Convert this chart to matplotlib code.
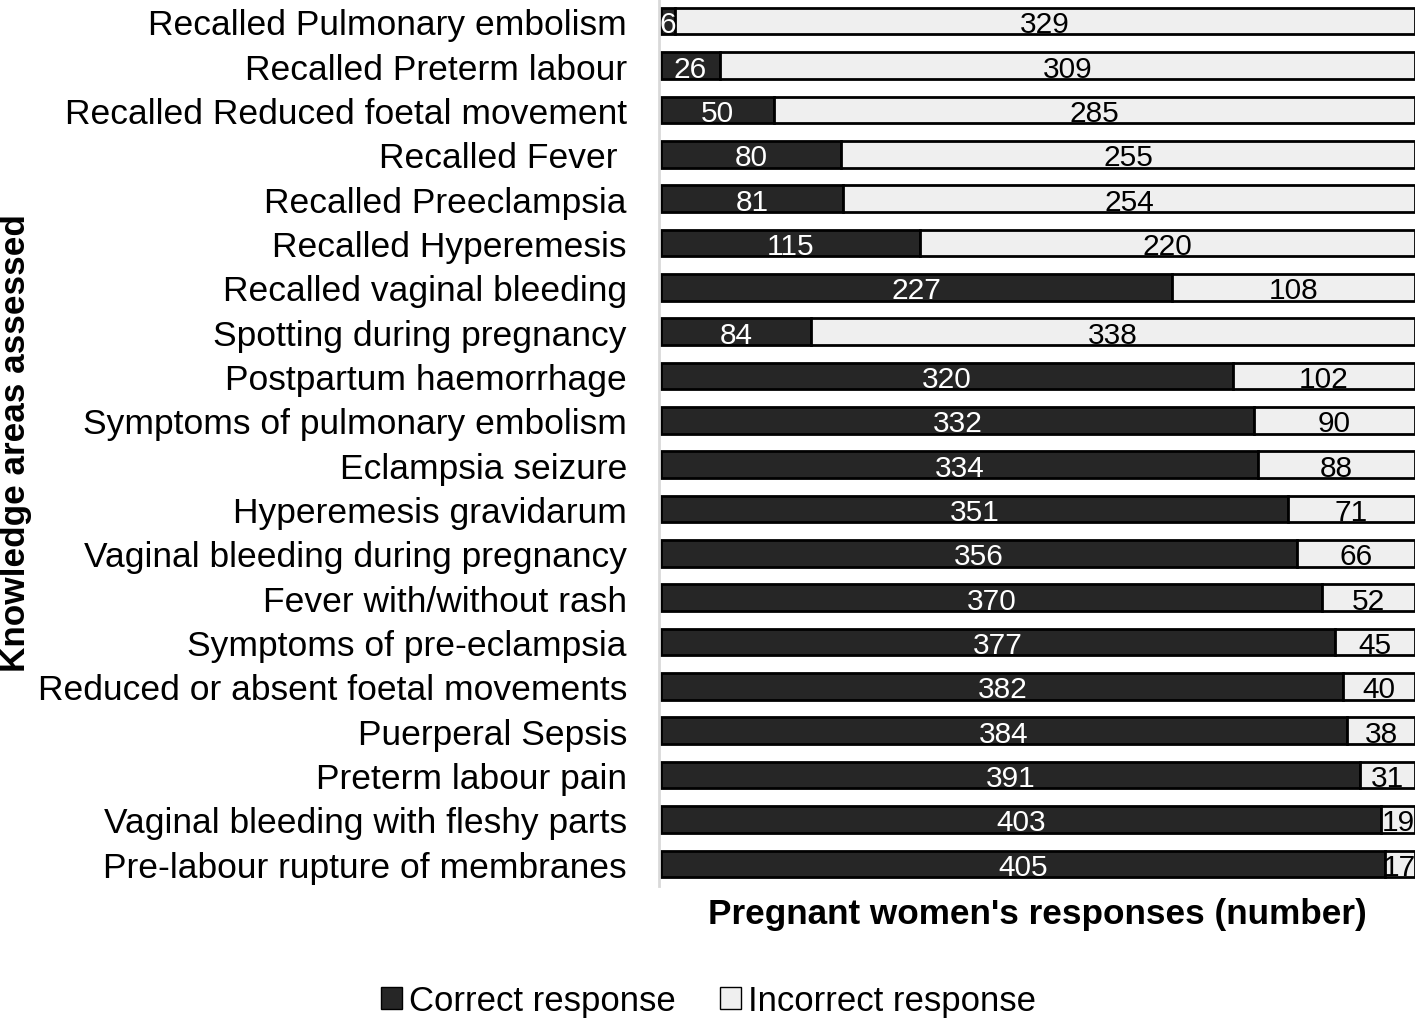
import numpy as np
import matplotlib.pyplot as plt
from matplotlib.patches import Patch

plt.rcParams['font.family'] = ['Liberation Sans', 'DejaVu Sans']

# knowledge areas, top to bottom
areas = ['Recalled Pulmonary embolism', 'Recalled Preterm labour',
         'Recalled Reduced foetal movement', 'Recalled Fever ',
         'Recalled Preeclampsia', 'Recalled Hyperemesis',
         'Recalled vaginal bleeding', 'Spotting during pregnancy',
         'Postpartum haemorrhage', 'Symptoms of pulmonary embolism',
         'Eclampsia seizure', 'Hyperemesis gravidarum',
         'Vaginal bleeding during pregnancy', 'Fever with/without rash',
         'Symptoms of pre-eclampsia', 'Reduced or absent foetal movements',
         'Puerperal Sepsis', 'Preterm labour pain',
         'Vaginal bleeding with fleshy parts', 'Pre-labour rupture of membranes']
correct = [6, 26, 50, 80, 81, 115, 227, 84, 320, 332, 334, 351, 356, 370, 377, 382, 384, 391, 403, 405]
incorrect = [329, 309, 285, 255, 254, 220, 108, 338, 102, 90, 88, 71, 66, 52, 45, 40, 38, 31, 19, 17]

correct = np.array(correct)
incorrect = np.array(incorrect)
total = correct + incorrect
c_share = correct / total
i_share = incorrect / total

fig = plt.figure(figsize=(14.17, 10.2), dpi=100)
ax = fig.add_axes([0.465, 0.1304, 0.5335, 0.8696])

y = np.arange(len(areas))
dark = '#262626'
light = '#efefef'
ax.barh(y, c_share, height=0.6, color=dark, edgecolor='black', linewidth=2)
ax.barh(y, i_share, left=c_share, height=0.6, color=light, edgecolor='black', linewidth=2)

for k in range(len(areas)):
    ax.text(c_share[k] / 2, y[k], str(correct[k]), ha='center', va='center_baseline',
            color='white', fontsize=21.5)
    ax.text(c_share[k] + i_share[k] / 2, y[k], str(incorrect[k]), ha='center',
            va='center_baseline', color='black', fontsize=21.5)

ax.set_ylim(len(areas) - 0.5, -0.5)
ax.set_xlim(-0.003, 1.0)
ax.set_yticks(y)
ax.set_yticklabels(areas, fontsize=25.5)
ax.tick_params(axis='y', length=0, pad=23)
ax.set_xticks([])
for s in ['top', 'right', 'bottom']:
    ax.spines[s].set_visible(False)
ax.spines['left'].set_color('#d9d9d9')
ax.spines['left'].set_linewidth(2)

ax.set_xlabel("Pregnant women's responses (number)", fontsize=25.3, fontweight='bold', labelpad=8)
fig.text(0.011, 0.5655, 'Knowledge areas assessed', rotation=90, ha='center', va='center',
         fontsize=25.3, fontweight='bold')

handles = [Patch(facecolor=dark, edgecolor='black', label='Correct response'),
           Patch(facecolor=light, edgecolor='black', label='Incorrect response')]
fig.legend(handles=handles, loc='center', bbox_to_anchor=(0.5, 0.018), ncol=2, frameon=False,
           fontsize=25, handlelength=0.6, handleheight=0.6, handletextpad=0.2,
           columnspacing=1.3)

fig.savefig('out.png', dpi=100)
